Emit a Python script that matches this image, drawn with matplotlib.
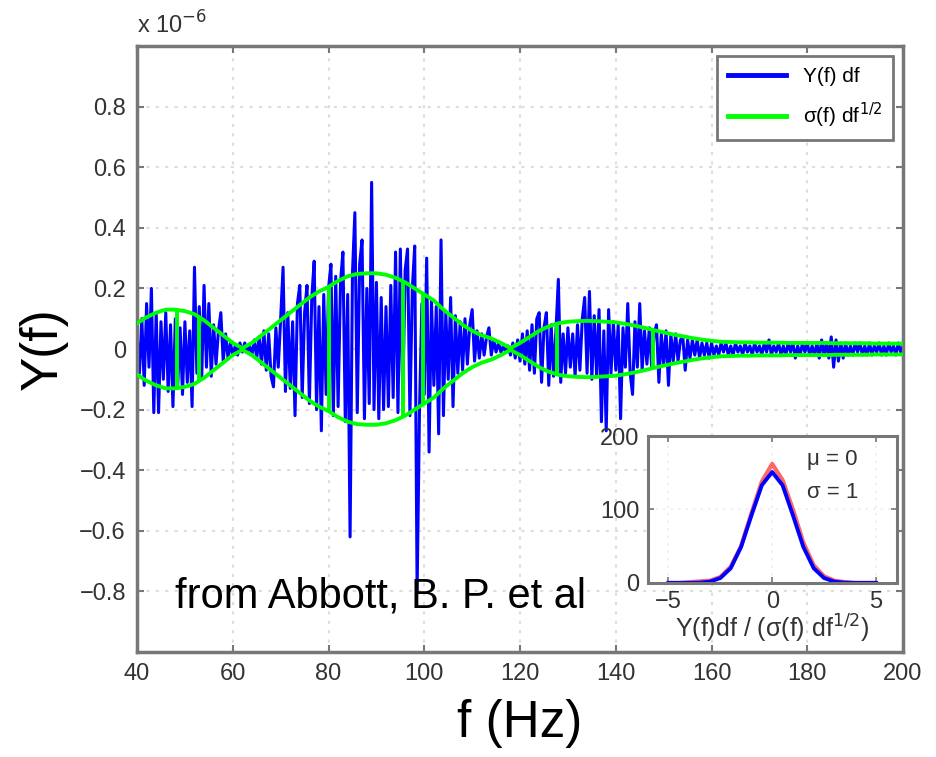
import numpy as np
import matplotlib
matplotlib.use("Agg")
import matplotlib.pyplot as plt

plt.rcParams['font.family'] = ['Liberation Sans', 'DejaVu Sans']
plt.rcParams['axes.unicode_minus'] = True

# ---- main panel data (units of 1e-6) ----
f_start, f_step = 40.0, 0.5
y_df = [
    # 40 - 49.5
    0.05, -0.08, 0.10, -0.12, 0.15, -0.06, 0.20, -0.21, 0.12, -0.21,
    0.09, -0.10, 0.12, -0.14, 0.08, -0.19, 0.10, -0.12, 0.07, -0.15,
    # 50 - 59.5
    0.09, -0.11, 0.06, -0.19, 0.27, -0.08, 0.14, -0.10, 0.21, -0.06,
    0.15, -0.09, 0.08, -0.05, 0.06, 0.12, -0.04, 0.05, -0.03, 0.02,
    # 60 - 69.5
    -0.02, 0.01, -0.02, 0.02, -0.01, 0.02, -0.01, 0.01, -0.02, 0.03,
    -0.03, 0.04, -0.05, 0.06, -0.07, 0.05, -0.09, -0.125, 0.07, -0.06,
    # 70 - 79.5
    0.10, 0.27, -0.14, 0.12, -0.13, 0.09, -0.22, 0.15, 0.21, -0.16,
    0.12, 0.21, -0.18, 0.17, 0.29, -0.20, 0.14, -0.27, 0.18, -0.15,
    # 80 - 89.5
    0.20, 0.28, -0.22, 0.24, -0.19, 0.22, 0.32, -0.24, 0.18, -0.62,
    0.25, 0.45, -0.21, 0.28, 0.36, -0.23, 0.20, -0.18, 0.55, -0.20,
    # 90 - 99.5
    0.22, -0.23, 0.17, -0.20, 0.14, -0.19, 0.21, -0.16, 0.32, -0.21,
    0.33, -0.17, 0.26, 0.33, -0.22, 0.20, 0.34, -0.80, -0.20, 0.15,
    # 100 - 109.5
    -0.15, 0.30, -0.34, 0.16, -0.12, 0.14, -0.28, 0.36, -0.22, 0.12,
    -0.10, 0.17, -0.19, 0.11, -0.08, 0.09, -0.07, 0.10, -0.05, 0.08,
    # 110 - 119.5
    0.13, -0.04, 0.06, -0.03, 0.05, -0.02, 0.04, 0.07, -0.02, 0.03,
    -0.01, 0.02, -0.01, 0.01, -0.01, 0.01, -0.02, 0.02, -0.03, 0.03,
    # 120 - 129.5
    -0.04, 0.05, -0.05, 0.06, -0.07, 0.08, -0.08, 0.10, 0.12, -0.11,
    0.07, 0.12, -0.12, 0.08, -0.09, 0.06, 0.23, -0.11, 0.05, -0.08,
    # 130 - 139.5
    0.07, -0.06, 0.05, -0.09, 0.08, -0.07, 0.10, 0.17, -0.08, 0.19,
    -0.10, 0.11, -0.09, 0.13, -0.24, 0.06, -0.27, 0.13, -0.08, 0.09,
    # 140 - 149.5
    -0.07, 0.08, -0.23, 0.07, -0.06, 0.15, -0.08, -0.15, 0.09, -0.06,
    0.15, -0.07, 0.06, -0.05, 0.07, -0.06, 0.05, 0.08, -0.11, 0.05,
    # 150 - 159.5
    -0.05, 0.06, -0.12, 0.05, -0.04, 0.05, -0.04, 0.03, 0.04, -0.07,
    0.03, -0.03, 0.03, -0.02, 0.03, -0.03, 0.02, -0.02, 0.02, -0.03,
    # 160 - 169.5
    0.02, -0.02, 0.01, -0.02, 0.02, -0.01, 0.02, -0.02, 0.01, -0.02,
    0.02, -0.01, 0.01, -0.02, 0.02, -0.01, 0.01, -0.02, 0.02, -0.01,
    # 170 - 179.5
    0.01, -0.02, 0.02, -0.01, 0.03, -0.02, 0.01, -0.01, 0.02, -0.02,
    0.01, -0.02, 0.02, -0.01, 0.02, -0.03, 0.01, -0.02, 0.02, -0.01,
    # 180 - 189.5
    0.02, -0.02, 0.01, -0.02, 0.02, -0.03, 0.03, -0.02, 0.02, -0.03,
    0.04, -0.06, 0.03, -0.04, 0.02, -0.03, 0.02, -0.02, 0.01, -0.02,
    # 190 - 199.5
    0.02, -0.01, 0.02, -0.02, 0.01, -0.02, 0.02, -0.02, 0.01, -0.01,
    0.02, -0.02, 0.01, -0.02, 0.02, -0.01, 0.01, -0.02, 0.02, -0.01,
    # 200
    0.01,
]
f_y = f_start + f_step * np.arange(len(y_df))

# sigma(f) df^1/2 envelope, every 2 Hz from 40 to 200
f_sig = list(range(40, 202, 2))
sigma = [
    # 40 - 62
    0.085, 0.105, 0.12, 0.13, 0.13, 0.125, 0.115, 0.095, 0.07, 0.045, 0.02, 0.003,
    # 64 - 118
    0.02, 0.045, 0.07, 0.095, 0.12, 0.145, 0.17, 0.19, 0.205, 0.225, 0.24, 0.248,
    0.25, 0.25, 0.245, 0.235, 0.22, 0.2, 0.18, 0.16, 0.13, 0.105, 0.08, 0.06,
    0.045, 0.035, 0.02, 0.003,
    # 120 - 160
    0.02, 0.04, 0.06, 0.075, 0.085, 0.09, 0.092, 0.093, 0.092, 0.09, 0.088,
    0.083, 0.077, 0.07, 0.062, 0.055, 0.048, 0.042, 0.036, 0.031, 0.027,
    # 162 - 200
    0.024, 0.023, 0.022, 0.022, 0.021, 0.021, 0.021, 0.02, 0.02, 0.02,
    0.02, 0.02, 0.019, 0.019, 0.019, 0.019, 0.018, 0.018, 0.018, 0.018,
]
# places where the green trace jumps from +sigma to -sigma
sigma_jumps = [48.4, 53.0, 80.0, 95.6, 99.7, 127.7, 147.8]

x_ticks = [40, 60, 80, 100, 120, 140, 160, 180, 200]
y_ticks = [-0.8, -0.6, -0.4, -0.2, 0, 0.2, 0.4, 0.6, 0.8]
y_tick_labels = ['\u22120.8', '\u22120.6', '\u22120.4', '\u22120.2', '0', '0.2', '0.4', '0.6', '0.8']

# ---- inset data ----
hist_x = [-5, -4.5, -4, -3.5, -3, -2.5, -2, -1.5, -1, -0.5, 0, 0.5, 1, 1.5, 2, 2.5, 3, 3.5, 4, 4.5, 5]
hist_red = [0, 0, 1, 2, 3, 8, 22, 50, 95, 138, 162, 140, 100, 55, 24, 9, 3, 1, 0, 0, 0]
fit_blue = [0, 0, 0, 0.3, 1.7, 6.6, 20, 49, 92, 133, 151, 133, 92, 49, 20, 6.6, 1.7, 0.3, 0, 0, 0]

grey = '#777777'
tick_fs = 17

fig = plt.figure(figsize=(9.36, 7.57), dpi=100)
ax = fig.add_axes([0.1464, 0.1387, 0.8184, 0.8005])

ax.plot(f_y, y_df, color='#0000ff', lw=2.2, label='Y(f) df', zorder=2)
sig = np.array(sigma)
ax.plot(f_sig, sig, color='#00ff00', lw=2.8, label='\u03c3(f) df$^{1/2}$', zorder=3)
ax.plot(f_sig, -sig, color='#00ff00', lw=2.8, zorder=3)
s_at = np.interp(sigma_jumps, f_sig, sigma)
ax.vlines(sigma_jumps, -s_at, s_at, color='#00ff00', lw=2.8, zorder=3)

ax.set_xlim(40, 200)
ax.set_ylim(-1, 1)
ax.set_xticks(x_ticks)
ax.set_yticks(y_ticks)
ax.set_yticklabels(y_tick_labels)
ax.tick_params(direction='in', length=5, width=1.5, color=grey, labelsize=tick_fs,
               labelcolor='#333333', top=True, right=True, pad=8)
ax.grid(True, linestyle=(0, (1.5, 3)), color='#dddddd', lw=1.5)
for s in ax.spines.values():
    s.set_color(grey)
    s.set_linewidth(2.5)

ax.set_xlabel('f (Hz)', fontsize=37, labelpad=10)
ax.set_ylabel('Y(f)', fontsize=37, labelpad=8)
ax.text(0.0, 1.012, 'x 10$^{-6}$', transform=ax.transAxes, fontsize=tick_fs,
        color='#333333', ha='left', va='bottom')
ax.text(0.05, 0.073, 'from Abbott, B. P. et al', transform=ax.transAxes,
        fontsize=30, ha='left', va='baseline')

leg = ax.legend(loc='upper right', fontsize=15, fancybox=False, framealpha=1,
                edgecolor=grey, handlelength=2.8, borderaxespad=0.5,
                labelspacing=0.7, borderpad=0.5)
leg.get_frame().set_linewidth(2)
for ln in leg.get_lines():
    ln.set_linewidth(3.5)

# ---- inset ----
ax_in = fig.add_axes([0.692, 0.23, 0.266, 0.194])
ax_in.plot(hist_x, hist_red, color='#ff4040', lw=3, alpha=0.8)
ax_in.plot(hist_x, fit_blue, color='#0000ff', lw=2.8)
ax_in.set_xlim(-6, 6)
ax_in.set_ylim(0, 200)
ax_in.set_xticks([-5, 0, 5])
ax_in.set_xticklabels(['\u22125', '0', '5'])
ax_in.set_yticks([0, 100, 200])
ax_in.tick_params(direction='in', length=4, width=1.2, color=grey, labelsize=tick_fs,
                  labelcolor='#333333', top=True, right=True, pad=6)
ax_in.grid(True, linestyle=(0, (1.5, 3)), color='#eeeeee', lw=1.2)
for s in ax_in.spines.values():
    s.set_color(grey)
    s.set_linewidth(2.2)
ax_in.set_xlabel('Y(f)df / (\u03c3(f) df$^{1/2}$)', fontsize=18, color='#333333', labelpad=0)
ax_in.text(0.64, 0.80, '\u03bc = 0', transform=ax_in.transAxes, fontsize=16, color='#333333')
ax_in.text(0.64, 0.58, '\u03c3 = 1', transform=ax_in.transAxes, fontsize=16, color='#333333')

fig.savefig('out.png', dpi=100)
